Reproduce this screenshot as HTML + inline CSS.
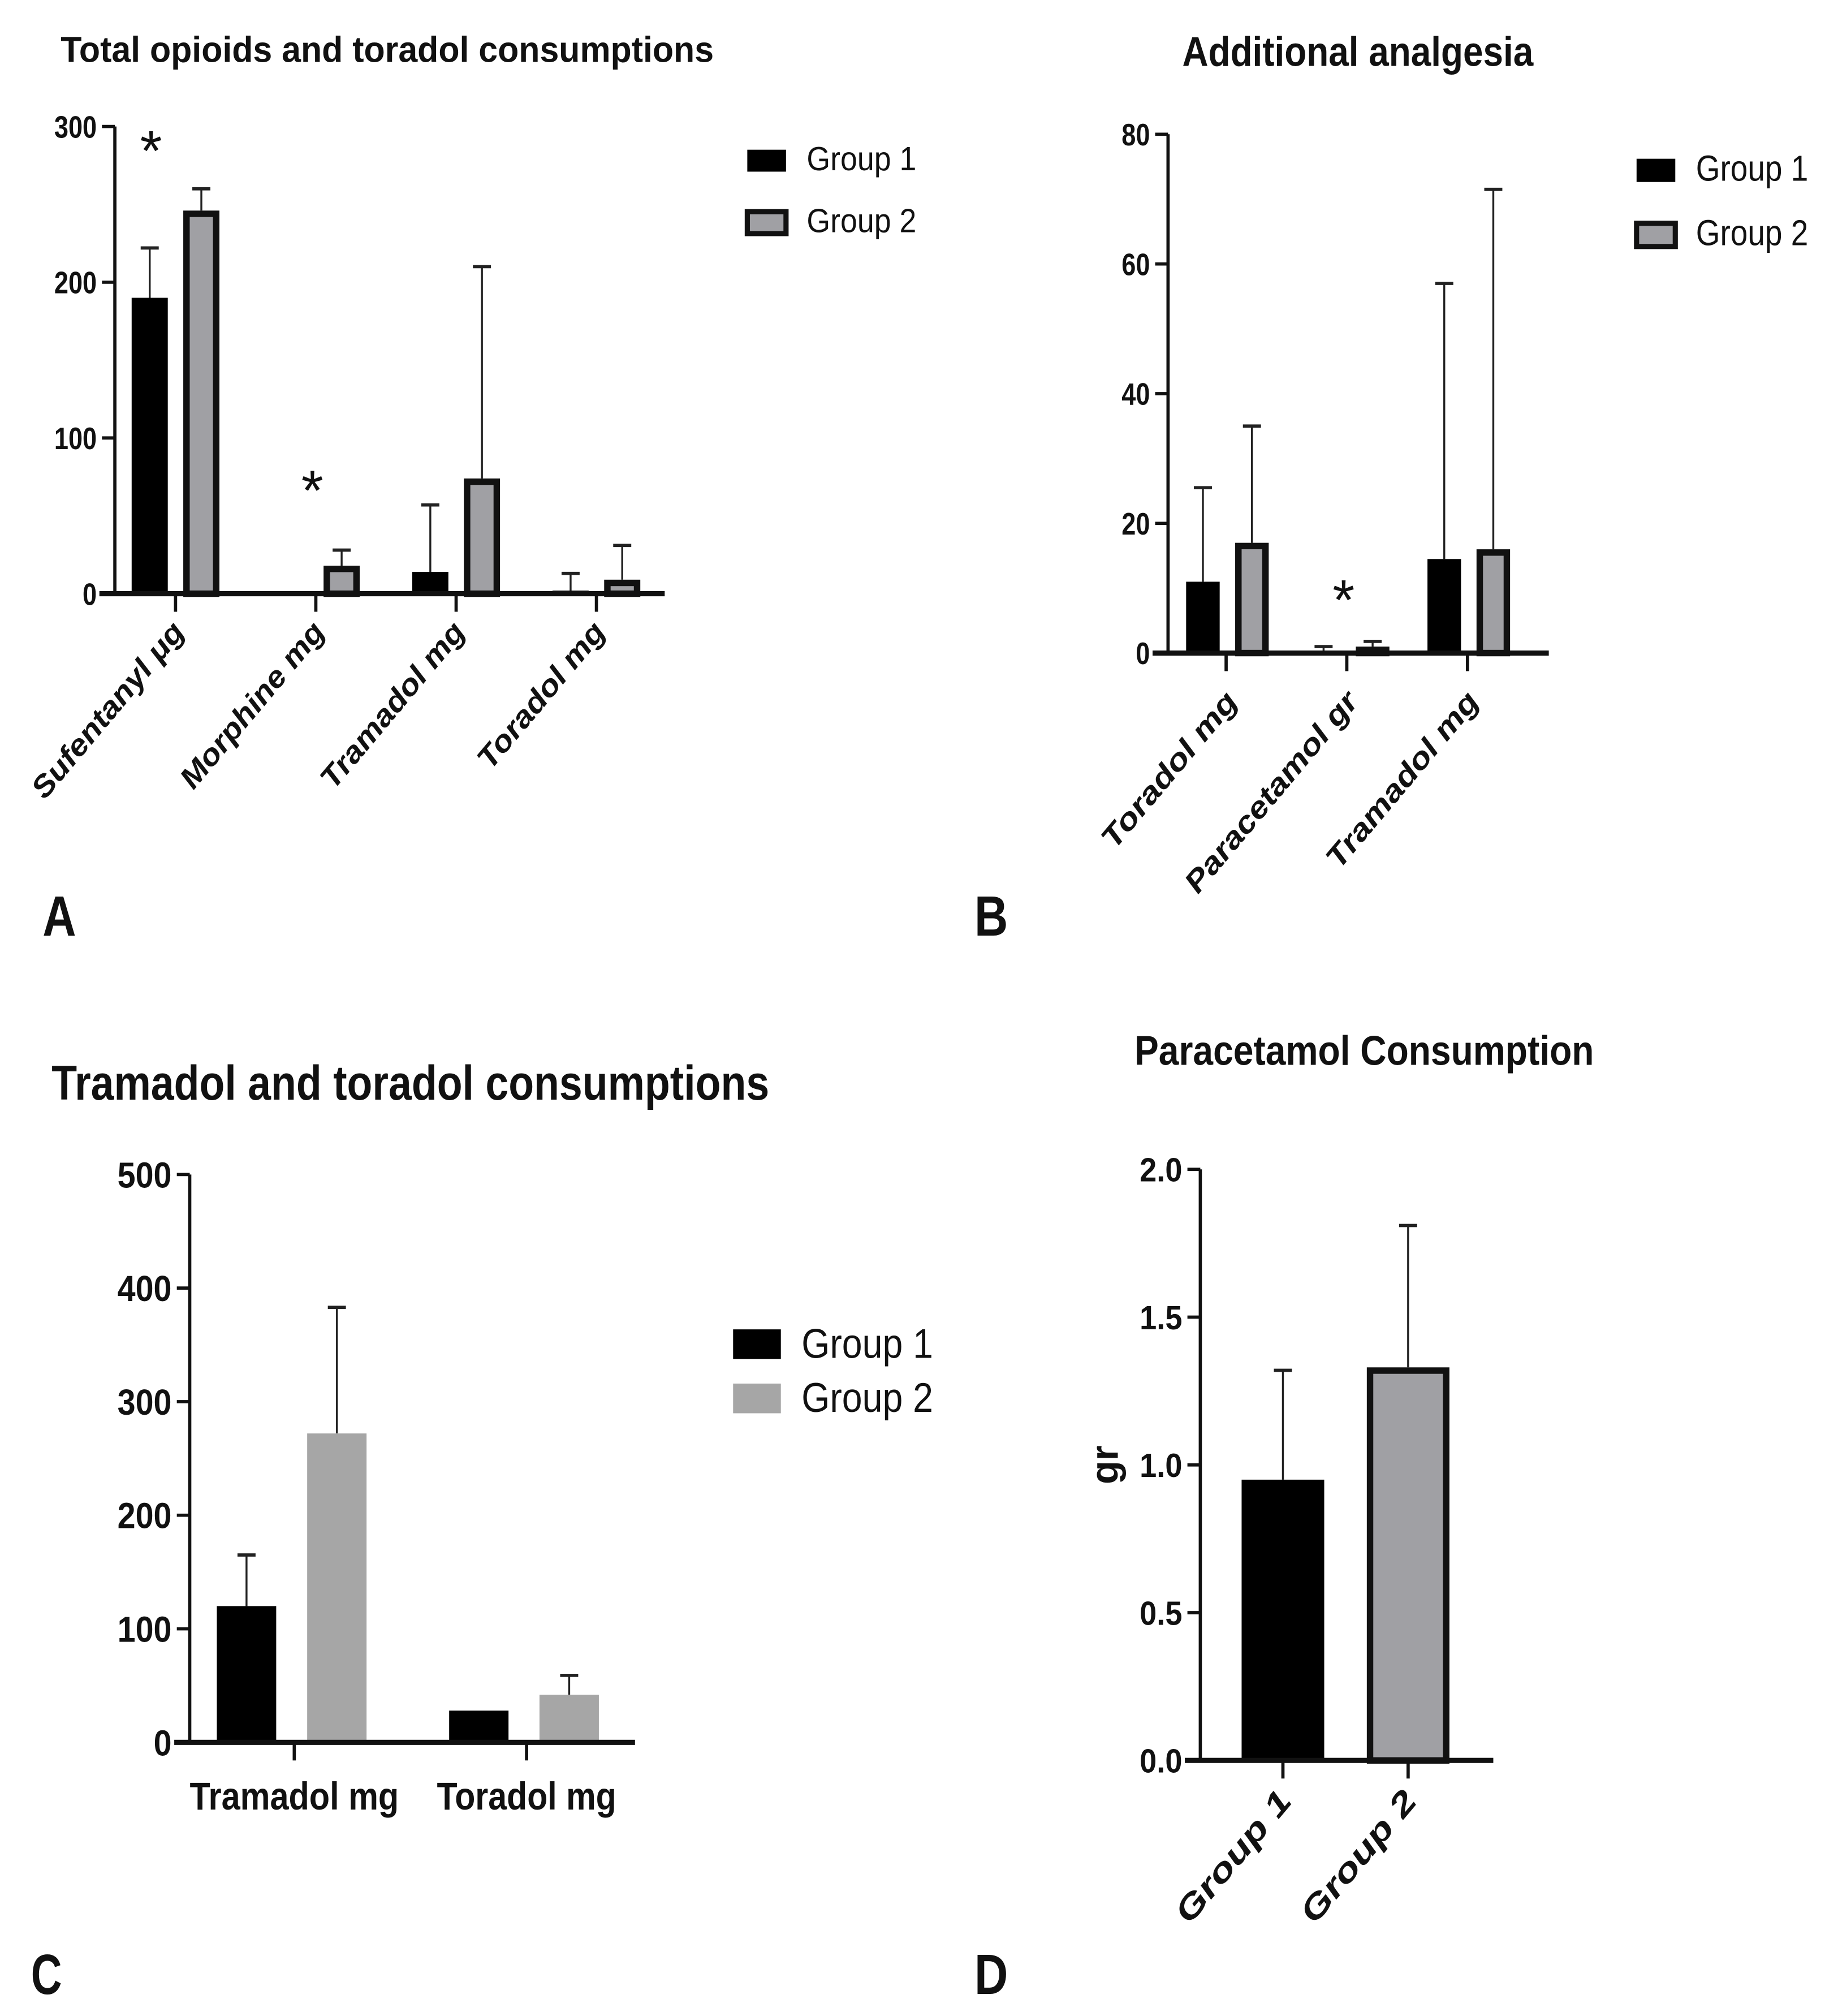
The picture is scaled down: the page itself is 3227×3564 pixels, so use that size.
<!DOCTYPE html>
<html><head><meta charset="utf-8"><style>
html,body{margin:0;padding:0;background:#fff}
svg{display:block}
text{font-family:"Liberation Sans Narrow","Liberation Sans",sans-serif;fill:#111}
</style></head><body>
<svg id="fig" width="3227" height="3564" viewBox="0 0 1414 1562" preserveAspectRatio="none" xmlns="http://www.w3.org/2000/svg">
<rect width="1414" height="1562" fill="#fff"/>
<g id="gA"></g>
<g id="gB"></g>
<g id="gC"></g>
<g id="gD"></g>
</svg>
<script>
// Panel A data
const aCategories = ["Sufentanyl \u03bcg","Morphine mg","Tramadol mg","Toradol mg"];
const aGroup1 = [190, 0, 14, 2];
const aGroup1Err = [222, 0, 57, 13];
const aGroup2 = [246, 18, 74, 9];
const aGroup2Err = [260, 28, 210, 31];
const aTicks = [0, 100, 200, 300];
// Panel B data
const bCategories = ["Toradol mg","Paracetamol gr","Tramadol mg"];
const bGroup1 = [11, 0.2, 14.5];
const bGroup1Err = [25.5, 1, 57];
const bGroup2 = [17, 1, 16];
const bGroup2Err = [35, 1.8, 71.5];
const bTicks = [0, 20, 40, 60, 80];
// Panel C data
const cCategories = ["Tramadol mg","Toradol mg"];
const cGroup1 = [120, 28];
const cGroup1Err = [165, 28];
const cGroup2 = [272, 42];
const cGroup2Err = [383, 59];
const cTicks = [0, 100, 200, 300, 400, 500];
// Panel D data
const dCategories = ["Group 1","Group 2"];
const dValues = [0.95, 1.33];
const dErr = [1.32, 1.81];
const dTicks = ["0.0","0.5","1.0","1.5","2.0"];

const NS="http://www.w3.org/2000/svg";
function mk(parent,tag,attrs,txt){const e=document.createElementNS(NS,tag);for(const k in attrs)e.setAttribute(k,attrs[k]);if(txt!==undefined)e.textContent=txt;parent.appendChild(e);return e;}
function fit(e,len){if(len){e.setAttribute('textLength',len);e.setAttribute('lengthAdjust','spacingAndGlyphs');}return e;}

function panel(g,o){
  const y=v=>o.y0-(v-o.vmin)/(o.vmax-o.vmin)*(o.y0-o.yTop);
  const t=fit(mk(g,'text',{x:o.titleX,y:o.titleY,'font-size':o.titleSize,'font-weight':'bold'},o.title),o.titleLen);
  
  const ya=mk(g,'line',{x1:o.axisX,y1:o.yTop,x2:o.axisX,y2:o.y0,stroke:'#111','stroke-width':2.5});
  
  o.ticks.forEach(tv=>{
    const v=parseFloat(tv);
    const tl=mk(g,'line',{x1:o.axisX-10,y1:y(v),x2:o.axisX,y2:y(v),stroke:'#111','stroke-width':2.5});
    
    const lb=mk(g,'text',{x:o.axisX-14,y:y(v)+o.tickSize*0.36,'font-size':o.tickSize,'text-anchor':'end','font-weight':'bold'},tv);
    fit(lb,o.tickCharW*String(tv).length);
    
  });
  o.cats.forEach((c,i)=>{
    const cx=o.cat0+i*o.catStep;
    o.series.forEach(s=>{
      const bx=cx+s.off-o.bw/2;
      const v=s.vals[i], ev=s.errs[i];
      if(ev>v){
        const el=mk(g,'line',{x1:bx+o.bw/2,y1:y(ev),x2:bx+o.bw/2,y2:y(v),stroke:'#222','stroke-width':1.5});
        
        const ec=mk(g,'line',{x1:bx+o.bw/2-7,y1:y(ev),x2:bx+o.bw/2+7,y2:y(ev),stroke:'#222','stroke-width':2.5});
        
      }
      if(v>0){
        const sw=s.border?5:0;
        const r=mk(g,'rect',{x:bx+sw/2,y:y(v)+sw/2,width:o.bw-sw,height:Math.max(0,y(0)-y(v)-sw/2),fill:s.fill,stroke:s.border?'#111':'none','stroke-width':sw});
        
      }
    });
    const xt=mk(g,'line',{x1:cx,y1:o.y0,x2:cx,y2:o.y0+14,stroke:'#111','stroke-width':2.5});
    
    let lb;
    if(o.rot){
      const lx=cx+o.labDx, ly=o.y0+o.labDy;
      lb=mk(g,'text',{x:lx,y:ly,'font-size':o.catSize,'text-anchor':'end','font-style':'italic','font-weight':'bold',transform:`rotate(-50 ${lx} ${ly})`},c);
    }else{
      lb=mk(g,'text',{x:cx,y:o.y0+52,'font-size':o.catSize,'text-anchor':'middle','font-weight':'bold'},c);
    }
    fit(lb,o.catLens[i]);
    
  });
  const xa=mk(g,'line',{x1:o.xStart,y1:o.y0,x2:o.xEnd,y2:o.y0,stroke:'#111','stroke-width':4});
  
  (o.stars||[]).forEach(s=>{
    const st=mk(g,'text',{x:s[0],y:s[1],'font-size':44,'text-anchor':'middle','font-family':'Liberation Sans'},'*');
    
  });
  (o.legend||[]).forEach((L,i)=>{
    const ly=o.legY+i*o.legStep;
    const r=mk(g,'rect',{x:o.legX,y:ly,width:o.legW,height:o.legH,fill:L.fill,stroke:L.border?'#111':'none','stroke-width':L.border?4:0});
    
    const tx=fit(mk(g,'text',{x:o.legX+o.legW+16,y:ly+o.legH-1,'font-size':o.legSize},L.name),o.legLen);
    
  });
  const pl=fit(mk(g,'text',{x:o.letter[0],y:o.letter[1],'font-size':44,'font-weight':'bold','font-family':'Liberation Sans'},o.letter[2]),o.letter[3]);
  
}

panel(document.getElementById('gA'),{title:'Total opioids and toradol consumptions',titleX:47,titleY:48,titleSize:28,titleLen:506,
  axisX:89,y0:460,yTop:98,vmin:0,vmax:300,ticks:aTicks,tickSize:24,tickCharW:11,
  cats:aCategories,cat0:136,catStep:108.7,bw:28,rot:true,catSize:23,catLens:[170,160,160,140],labDx:8,labDy:30,xStart:77,xEnd:515,
  series:[{name:'group-1',vals:aGroup1,errs:aGroup1Err,off:-20,fill:'#000',border:false},
          {name:'group-2',vals:aGroup2,errs:aGroup2Err,off:20,fill:'#a0a0a4',border:true}],
  stars:[[117,132],[242,395]],
  legend:[{name:'Group 1',fill:'#000'},{name:'Group 2',fill:'#a0a0a4',border:true}],legX:579,legY:116,legStep:48,legW:30,legH:17,legSize:26,legLen:85,
  letter:[33,725,'A',26]});
panel(document.getElementById('gB'),{title:'Additional analgesia',titleX:916,titleY:51,titleSize:32,titleLen:272,
  axisX:905,y0:506,yTop:104,vmin:0,vmax:80,ticks:bTicks,tickSize:24,tickCharW:11,
  cats:bCategories,cat0:950,catStep:93.5,bw:26,rot:true,catSize:23,catLens:[150,195,170],labDx:10,labDy:38,xStart:893,xEnd:1200,
  series:[{name:'group-1',vals:bGroup1,errs:bGroup1Err,off:-18,fill:'#000',border:false},
          {name:'group-2',vals:bGroup2,errs:bGroup2Err,off:20,fill:'#a0a0a4',border:true}],
  stars:[[1041,480]],
  legend:[{name:'Group 1',fill:'#000'},{name:'Group 2',fill:'#a0a0a4',border:true}],legX:1268,legY:123,legStep:50,legW:30,legH:18,legSize:28,legLen:87,
  letter:[755,725,'B',26]});
panel(document.getElementById('gC'),{title:'Tramadol and toradol consumptions',titleX:40,titleY:852,titleSize:38,titleLen:556,
  axisX:147,y0:1350,yTop:910,vmin:0,vmax:500,ticks:cTicks,tickSize:28,tickCharW:14,
  cats:cCategories,cat0:228,catStep:180,bw:46,rot:false,catSize:30,catLens:[162,139],xStart:135,xEnd:492,
  series:[{name:'group-1',vals:cGroup1,errs:cGroup1Err,off:-37,fill:'#000',border:false},
          {name:'group-2',vals:cGroup2,errs:cGroup2Err,off:33,fill:'#a6a6a6',border:false}],
  legend:[{name:'Group 1',fill:'#000'},{name:'Group 2',fill:'#a6a6a6'}],legX:568,legY:1030,legStep:42,legW:37,legH:23,legSize:32,legLen:102,
  letter:[24,1545,'C',24]});
panel(document.getElementById('gD'),{title:'Paracetamol Consumption',titleX:879,titleY:825,titleSize:32,titleLen:356,
  axisX:930,y0:1364,yTop:906,vmin:0,vmax:2,ticks:dTicks,tickSize:26,tickCharW:11,
  cats:dCategories,cat0:994,catStep:97,bw:64,rot:true,catSize:25,catLens:[125,125],labDx:8,labDy:32,xStart:918,xEnd:1157,
  series:[{name:'value',vals:dValues.map((v,i)=>i===0?v:0),errs:dErr.map((v,i)=>i===0?v:0),off:0,fill:'#000',border:false},
          {name:'value-2',vals:dValues.map((v,i)=>i===1?v:0),errs:dErr.map((v,i)=>i===1?v:0),off:0,fill:'#a0a0a4',border:true}],
  letter:[755,1545,'D',26]});
const gl=mk(document.getElementById('gD'),'text',{x:866,y:1135,'font-size':30,'font-weight':'bold','text-anchor':'middle',transform:'rotate(-90 866 1135)'},'gr');


</script>
</body></html>
